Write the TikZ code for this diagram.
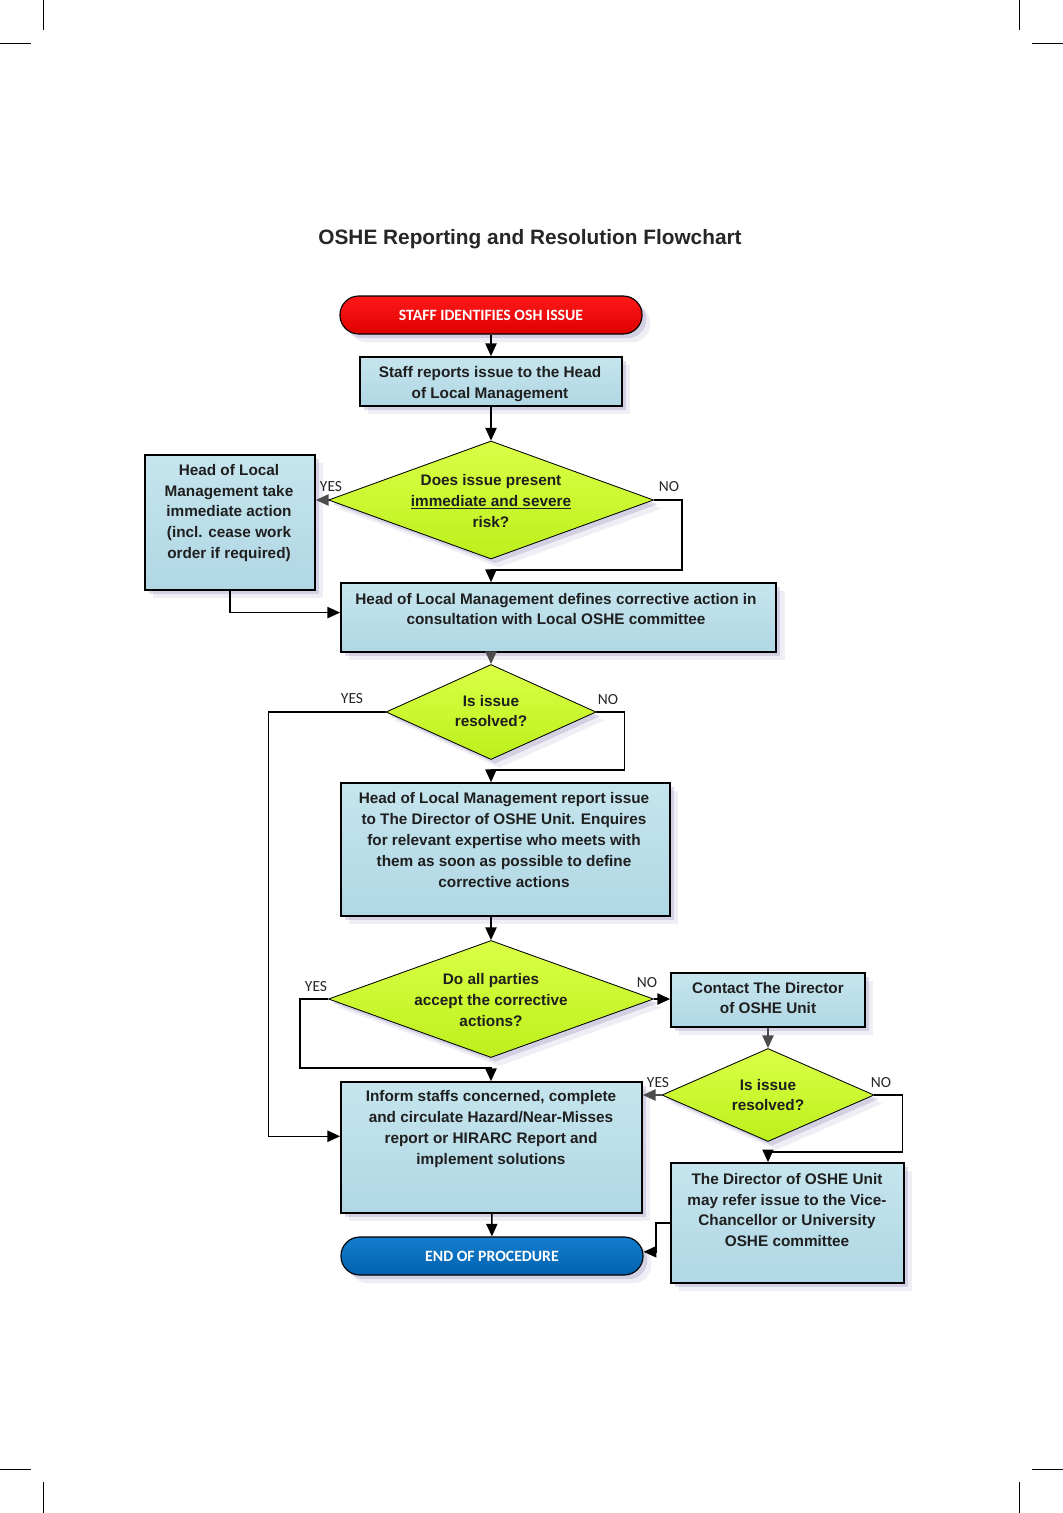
\documentclass[tikz,border=0pt]{standalone}
\usepackage{fontspec}
\setmainfont{Liberation Sans}
\newfontfamily\termfont{Carlito}
\usetikzlibrary{shapes.geometric,shadows,arrows.meta,calc}

\definecolor{boxtop}{RGB}{198,229,238}
\definecolor{boxbot}{RGB}{176,215,228}
\definecolor{diatop}{RGB}{218,255,70}
\definecolor{diabot}{RGB}{188,240,28}
\definecolor{redtop}{RGB}{255,25,25}
\definecolor{redbot}{RGB}{222,0,0}
\definecolor{bluetop}{RGB}{20,125,205}
\definecolor{bluebot}{RGB}{0,98,175}
\definecolor{shadowc}{RGB}{150,140,190}

\tikzset{
  soft/.style={drop shadow={shadow xshift=3pt, shadow yshift=-3pt, fill=shadowc, opacity=0.30},
               drop shadow={shadow xshift=6pt, shadow yshift=-6pt, fill=shadowc, opacity=0.15}},
  box/.style={draw=black, line width=1.2pt, top color=boxtop, bottom color=boxbot, soft},
  dia/.style={diamond, draw=black, line width=0.6pt, inner sep=0pt, top color=diatop, bottom color=diabot, soft},
  term/.style={draw=black, line width=0.8pt, rounded corners=0.47cm, minimum width=7.55cm, minimum height=0.95cm,
               font=\termfont\bfseries\fontsize{11.2}{13}\selectfont, text=white, soft},
  txt/.style={align=center, font=\bfseries\fontsize{10.9}{14.8}\selectfont, text=black!88},
  yn/.style={font=\termfont\fontsize{11}{13}\selectfont, text=black!85},
  arr/.style={-{Triangle[length=9pt,width=8pt]}, line width=1pt},
  crop/.style={line width=0.6pt}
}

\begin{document}
\begin{tikzpicture}[x=0.025cm, y=-0.025cm]
    \useasboundingbox (0,0) rectangle (1063,1513);

    % crop marks
    \draw[crop] (43,0) -- (43,30);      \draw[crop] (0,43) -- (31,43);
    \draw[crop] (1019,0) -- (1019,30);  \draw[crop] (1032,43) -- (1063,43);
    \draw[crop] (0,1469) -- (31,1469);  \draw[crop] (43,1482) -- (43,1513);
    \draw[crop] (1032,1469) -- (1063,1469); \draw[crop] (1019,1482) -- (1019,1513);

    \node[font=\bfseries\fontsize{14.8}{17}\selectfont, text=black!85] (title) at (530,239) {OSHE Reporting and Resolution Flowchart};

    % shapes
    \node[term, top color=redtop, bottom color=redbot] (start) at (491,315) {STAFF IDENTIFIES OSH ISSUE};
    \node[box, minimum width=6.55cm, minimum height=1.225cm] (box1) at (491,381.5) {};
    \node[txt] (box1t) at (490,384) {Staff reports issue to the Head\\of Local Management};

    \node[dia, minimum width=8.125cm, minimum height=2.95cm] (d1) at (491,500) {};
    \node[txt] (d1t) at (491,501) {Does issue present\\\underline{immediate and severe}\\risk?};

    \node[box, minimum width=4.25cm, minimum height=3.375cm] (act) at (230,522.5) {};
    \node[txt] (actt) at (229,513) {Head of Local\\Management take\\immediate action\\(incl. cease work\\order if required)};

    \node[box, minimum width=10.875cm, minimum height=1.725cm] (define) at (558.5,617.5) {};
    \node[txt] (definet) at (556,609) {Head of Local Management defines corrective action in\\consultation with Local OSHE committee};

    \node[dia, minimum width=5.25cm, minimum height=2.375cm] (d2) at (491,712) {};
    \node[txt] (d2t) at (491,711) {Is issue\\resolved?};

    \node[box, minimum width=8.225cm, minimum height=3.325cm] (report) at (505.5,849.5) {};
    \node[txt] (reportt) at (504,840) {Head of Local Management report issue\\to The Director of OSHE Unit. Enquires\\for relevant expertise who meets with\\them as soon as possible to define\\corrective actions};

    \node[dia, minimum width=8.125cm, minimum height=2.925cm] (d3) at (491,999) {};
    \node[txt] (d3t) at (491,1000) {Do all parties\\accept the corrective\\actions?};

    \node[box, minimum width=4.85cm, minimum height=1.35cm] (contact) at (768,1000) {};
    \node[txt] (contactt) at (768,998) {Contact The Director\\of OSHE Unit};

    \node[dia, minimum width=5.3cm, minimum height=2.325cm] (d4) at (768,1095) {};
    \node[txt] (d4t) at (768,1095) {Is issue\\resolved?};

    \node[box, minimum width=7.525cm, minimum height=3.275cm] (inform) at (491.5,1147.5) {};
    \node[txt] (informt) at (491,1129) {Inform staffs concerned, complete\\and circulate Hazard/Near-Misses\\report or HIRARC Report and\\implement solutions};

    \node[box, minimum width=5.825cm, minimum height=3.0cm] (refer) at (787.5,1223) {};
    \node[txt] (refert) at (787,1210) {The Director of OSHE Unit\\may refer issue to the Vice-\\Chancellor or University\\OSHE committee};

    \node[term, top color=bluetop, bottom color=bluebot] (end) at (492,1256) {END OF PROCEDURE};

    % connectors
    \draw[arr] (start) -- (box1);
    \draw[arr] (box1) -- (d1);
    \draw[arr, black!70] (d1.west) -- (d1.west -| act.east);
    \node[yn] (yes1) at (331,487) {YES};
    \draw[arr] (d1.east) -- ++(28,0) |- ($(define.north -| d1.south)+(0,-12)$) -- (define.north -| d1.south);
    \node[yn] (no1) at (669,487) {NO};
    \draw[arr] (act.south) |- ([yshift=3.5pt]define.west);

    \draw[arr, black!70] (define.south -| d2.north) -- (d2.north);
    \draw[arr] (d2.west) -- ++(-117,0) |- ([yshift=8pt]inform.west);
    \node[yn] (yes2) at (352,699) {YES};
    \draw[arr] (d2.east) -- ++(28,0) |- ($(report.north -| d2.south)+(0,-12)$) -- (report.north -| d2.south);
    \node[yn] (no2) at (608,700) {NO};

    \draw[arr] (report.south -| d3.north) -- (d3.north);
    \draw[arr] (d3.west) -- ++(-28,0) |- ($(inform.north -| d3.south)+(0,-13)$) -- (inform.north -| d3.south);
    \node[yn] (yes3) at (316,987) {YES};
    \draw[arr] (d3.east) -- (d3.east -| contact.west);
    \node[yn] (no3) at (647,983) {NO};

    \draw[arr, black!70] (contact) -- (d4);
    \draw[arr, black!70] (d4.west) -- (d4.west -| inform.east);
    \node[yn] (yes4) at (658,1083) {YES};
    \draw[arr] (d4.east) -- ++(28,0) |- ($(refer.north -| d4.south)+(0,-10)$) -- (refer.north -| d4.south);
    \node[yn] (no4) at (881,1083) {NO};

    \draw[arr] (inform) -- (end);
    \draw[arr] (refer.west) -- ++(-14,0) |- ([yshift=3pt]end.east);
\end{tikzpicture}
\end{document}
